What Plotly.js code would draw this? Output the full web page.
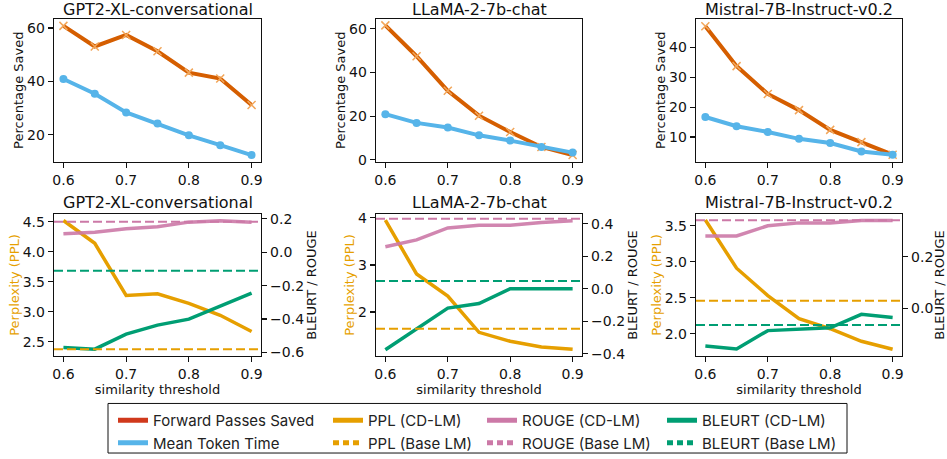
<!DOCTYPE html>
<html>
<head>
<meta charset="utf-8">
<script src="https://cdn.plot.ly/plotly-3.0.1.min.js"></script>
<style>html,body{margin:0;padding:0;background:#fff;}#chart{width:947px;height:459px;}</style>
</head>
<body>
<div id="chart"></div>
<script>
// ---------------- data ----------------
const thresholds = [0.6, 0.65, 0.7, 0.75, 0.8, 0.85, 0.9];
const xTickVals = [0.6, 0.7, 0.8, 0.9];
const models = ["GPT2-XL-conversational", "LLaMA-2-7b-chat", "Mistral-7B-Instruct-v0.2"];

// top row: percentage saved
const gpt2Forward = [60.8, 53.1, 57.4, 51.3, 43.3, 41.1, 31.2];
const gpt2TokenTime = [40.9, 35.4, 28.4, 24.2, 19.8, 16.1, 12.4];
const llamaForward = [61.5, 47.4, 31.6, 20.2, 12.7, 5.9, 2.2];
const llamaTokenTime = [20.9, 16.9, 14.8, 11.2, 8.8, 5.9, 3.3];
const mistralForward = [47.0, 33.7, 24.4, 19.0, 12.4, 8.3, 4.1];
const mistralTokenTime = [16.7, 13.6, 11.7, 9.4, 8.0, 5.2, 4.1];

// bottom row: quality metrics
const gpt2PPL = [4.52, 4.14, 3.27, 3.30, 3.14, 2.94, 2.67];
const gpt2ROUGE = [0.111, 0.119, 0.140, 0.152, 0.180, 0.188, 0.180];
const gpt2BLEURT = [-0.57, -0.58, -0.49, -0.436, -0.40, -0.32, -0.244];
const gpt2BasePPL = 2.374, gpt2BaseROUGE = 0.182, gpt2BaseBLEURT = -0.111;

const llamaPPL = [3.95, 2.81, 2.34, 1.57, 1.38, 1.26, 1.21];
const llamaROUGE = [0.258, 0.300, 0.374, 0.390, 0.390, 0.408, 0.418];
const llamaBLEURT = [-0.376, -0.248, -0.120, -0.092, 0.0, 0.0, 0.0];
const llamaBasePPL = 1.645, llamaBaseROUGE = 0.43, llamaBaseBLEURT = 0.047;

const mistralPPL = [3.58, 2.91, 2.53, 2.21, 2.07, 1.895, 1.785];
const mistralROUGE = [0.28, 0.28, 0.32, 0.331, 0.331, 0.34, 0.34];
const mistralBLEURT = [-0.147, -0.158, -0.087, -0.080, -0.076, -0.024, -0.036];
const mistralBasePPL = 2.459, mistralBaseROUGE = 0.341, mistralBaseBLEURT = -0.065;

// ---------------- style ----------------
const C_FWD = "#D55E00", C_FWD_LEG = "#D0391C", C_MTT = "#56B4E9";
const C_PPL = "#E69F00", C_ROUGE = "#CC79A7", C_BLEURT = "#009E73";
const W = 947, H = 459;
const FONT = "DejaVu Sans, sans-serif";

const colsPx = [[54, 261], [376, 582], [696, 902]];
const topPx = [19, 163], botPx = [216, 359];
const dx = p => [p[0] / W, p[1] / W];
const dy = p => [1 - p[1] / H, 1 - p[0] / H];

const topData = [[gpt2Forward, gpt2TokenTime], [llamaForward, llamaTokenTime], [mistralForward, mistralTokenTime]];
const botData = [
  [gpt2PPL, gpt2ROUGE, gpt2BLEURT, gpt2BasePPL, gpt2BaseROUGE, gpt2BaseBLEURT],
  [llamaPPL, llamaROUGE, llamaBLEURT, llamaBasePPL, llamaBaseROUGE, llamaBaseBLEURT],
  [mistralPPL, mistralROUGE, mistralBLEURT, mistralBasePPL, mistralBaseROUGE, mistralBaseBLEURT]
];
const topRanges = [[9.97, 63.45], [-0.8, 64.5], [1.8, 49.5]];
const topDtick = [20, 20, 10];
const botLeftRanges = [[2.264, 4.627], [1.07, 4.08], [1.693, 3.661]];
const botLeftDtick = [0.5, 1, 0.5];
const botLeftFmt = [".1f", "d", ".1f"];
const botRightRanges = [[-0.62, 0.228], [-0.414, 0.459], [-0.185, 0.365]];

const traces = [];
const layout = {
  width: W, height: H,
  margin: {l: 0, r: 0, t: 0, b: 0},
  paper_bgcolor: "#fff", plot_bgcolor: "#fff",
  font: {family: FONT, color: "#111", size: 14},
  showlegend: true,
  annotations: [], shapes: []
};

function xAxisDef(i, anchor, withTitle) {
  const a = {
    domain: dx(colsPx[i]), anchor: anchor, range: [0.585, 0.915],
    tickvals: xTickVals, tickformat: ".1f",
    ticks: "outside", ticklen: 5, tickwidth: 1.2, tickcolor: "#111",
    showline: true, linecolor: "#111", linewidth: 1.3, mirror: true,
    showgrid: false, zeroline: false, tickfont: {size: 14}
  };
  if (withTitle) a.title = {text: "similarity threshold", font: {size: 13}, standoff: 2};
  return a;
}
function yAxisDef(domain, anchor, range, dtick, fmt, title, titleColor, side) {
  return {
    domain: domain, anchor: anchor, range: range, dtick: dtick, tickformat: fmt,
    ticks: "outside", ticklen: 5, tickwidth: 1.2, tickcolor: "#111",
    showline: true, linecolor: "#111", linewidth: 1.3, mirror: side ? false : true,
    showgrid: false, zeroline: false, tickfont: {size: 14},
    side: side || "left",
    title: {text: title, font: {size: 13, color: titleColor || "#111"}, standoff: 0}
  };
}

for (let i = 0; i < 3; i++) {
  // top row axes: x{i+1}, y{i+1}
  const xt = "x" + (i + 1), yt = "y" + (i + 1);
  layout["xaxis" + (i === 0 ? "" : i + 1)] = xAxisDef(i, yt, false);
  layout["yaxis" + (i === 0 ? "" : i + 1)] = yAxisDef(dy(topPx), xt, topRanges[i], topDtick[i], "d", "Percentage Saved");
  traces.push({
    x: thresholds, y: topData[i][0], xaxis: xt, yaxis: yt, type: "scatter", mode: "lines+markers",
    line: {color: C_FWD, width: 4}, marker: {symbol: "x-thin", size: 8, color: "#F2A65A", line: {width: 1.5, color: "#F2A65A"}},
    showlegend: false, name: "Forward Passes Saved"
  });
  traces.push({
    x: thresholds, y: topData[i][1], xaxis: xt, yaxis: yt, type: "scatter", mode: "lines+markers",
    line: {color: C_MTT, width: 4}, marker: {symbol: "circle", size: 8, color: C_MTT},
    showlegend: false, name: "Mean Token Time"
  });
  layout.annotations.push({
    text: models[i], xref: "paper", yref: "paper", x: (colsPx[i][0] + colsPx[i][1]) / 2 / W, y: 1 - 10 / H,
    xanchor: "center", yanchor: "middle", showarrow: false, font: {size: 16, color: "#111"}
  });

  // bottom row axes: x{i+4}, y{i+4} left, y{i+7} right
  const xb = "x" + (i + 4), yl = "y" + (i + 4), yr = "y" + (i + 7);
  layout["xaxis" + (i + 4)] = xAxisDef(i, yl, true);
  layout["yaxis" + (i + 4)] = yAxisDef(dy(botPx), xb, botLeftRanges[i], botLeftDtick[i], botLeftFmt[i], "Perplexity (PPL)", C_PPL);
  const r = yAxisDef(dy(botPx), xb, botRightRanges[i], 0.2, ".1f", "BLEURT / ROUGE", "#111", "right");
  r.overlaying = yl;
  layout["yaxis" + (i + 7)] = r;
  const d = botData[i];
  traces.push({x: thresholds, y: d[0], xaxis: xb, yaxis: yl, type: "scatter", mode: "lines",
    line: {color: C_PPL, width: 3.5}, showlegend: false, name: "PPL (CD-LM)"});
  traces.push({x: thresholds, y: d[1], xaxis: xb, yaxis: yr, type: "scatter", mode: "lines",
    line: {color: C_ROUGE, width: 3.5}, opacity: 0.9, showlegend: false, name: "ROUGE (CD-LM)"});
  traces.push({x: thresholds, y: d[2], xaxis: xb, yaxis: yr, type: "scatter", mode: "lines",
    line: {color: C_BLEURT, width: 3.5}, showlegend: false, name: "BLEURT (CD-LM)"});
  const base = [[d[3], yl, C_PPL], [d[4], yr, C_ROUGE], [d[5], yr, C_BLEURT]];
  base.forEach(b => layout.shapes.push({
    type: "line", xref: xb + " domain", x0: 0, x1: 1, yref: b[1], y0: b[0], y1: b[0],
    line: {color: b[2], width: 2, dash: "9px,4px"}, layer: "above"
  }));
  layout.annotations.push({
    text: models[i], xref: "paper", yref: "paper", x: (colsPx[i][0] + colsPx[i][1]) / 2 / W, y: 1 - 204 / H,
    xanchor: "center", yanchor: "middle", showarrow: false, font: {size: 16, color: "#111"}
  });
}

// legend entries (legend-only traces)
const legendItems = [
  ["Forward Passes Saved", C_FWD_LEG, "solid", "legend"],
  ["Mean Token Time", C_MTT, "solid", "legend"],
  ["PPL (CD-LM)", C_PPL, "solid", "legend2"],
  ["PPL (Base LM)", C_PPL, "6px,4px", "legend2"],
  ["ROUGE (CD-LM)", C_ROUGE, "solid", "legend3"],
  ["ROUGE (Base LM)", C_ROUGE, "6px,4px", "legend3"],
  ["BLEURT (CD-LM)", C_BLEURT, "solid", "legend4"],
  ["BLEURT (Base LM)", C_BLEURT, "6px,4px", "legend4"]
];
legendItems.forEach(it => traces.push({
  x: [null], y: [null], xaxis: "x", yaxis: "y", type: "scatter", mode: "lines",
  name: it[0], line: {color: it[1], width: 5, dash: it[2]}, legend: it[3], showlegend: true, hoverinfo: "skip"
}));
const legTextX = [153, 368, 522, 702];
["legend", "legend2", "legend3", "legend4"].forEach((k, j) => {
  layout[k] = {
    x: (legTextX[j] - 40) / W, y: 1 - 408 / H, xanchor: "left", yanchor: "top",
    orientation: "v", bgcolor: "rgba(0,0,0,0)", borderwidth: 0, itemwidth: 30,
    tracegroupgap: 0, font: {family: "Inter, sans-serif", size: 15, color: "#222"}
  };
});
layout.shapes.push({
  type: "rect", xref: "paper", yref: "paper", x0: 108 / W, x1: 847 / W, y0: 1 - 457 / H, y1: 1 - 407 / H,
  line: {color: "#111", width: 1}, fillcolor: "rgba(0,0,0,0)", layer: "above"
});

Plotly.newPlot("chart", traces, layout, {staticPlot: true, displayModeBar: false});
</script>
</body>
</html>
